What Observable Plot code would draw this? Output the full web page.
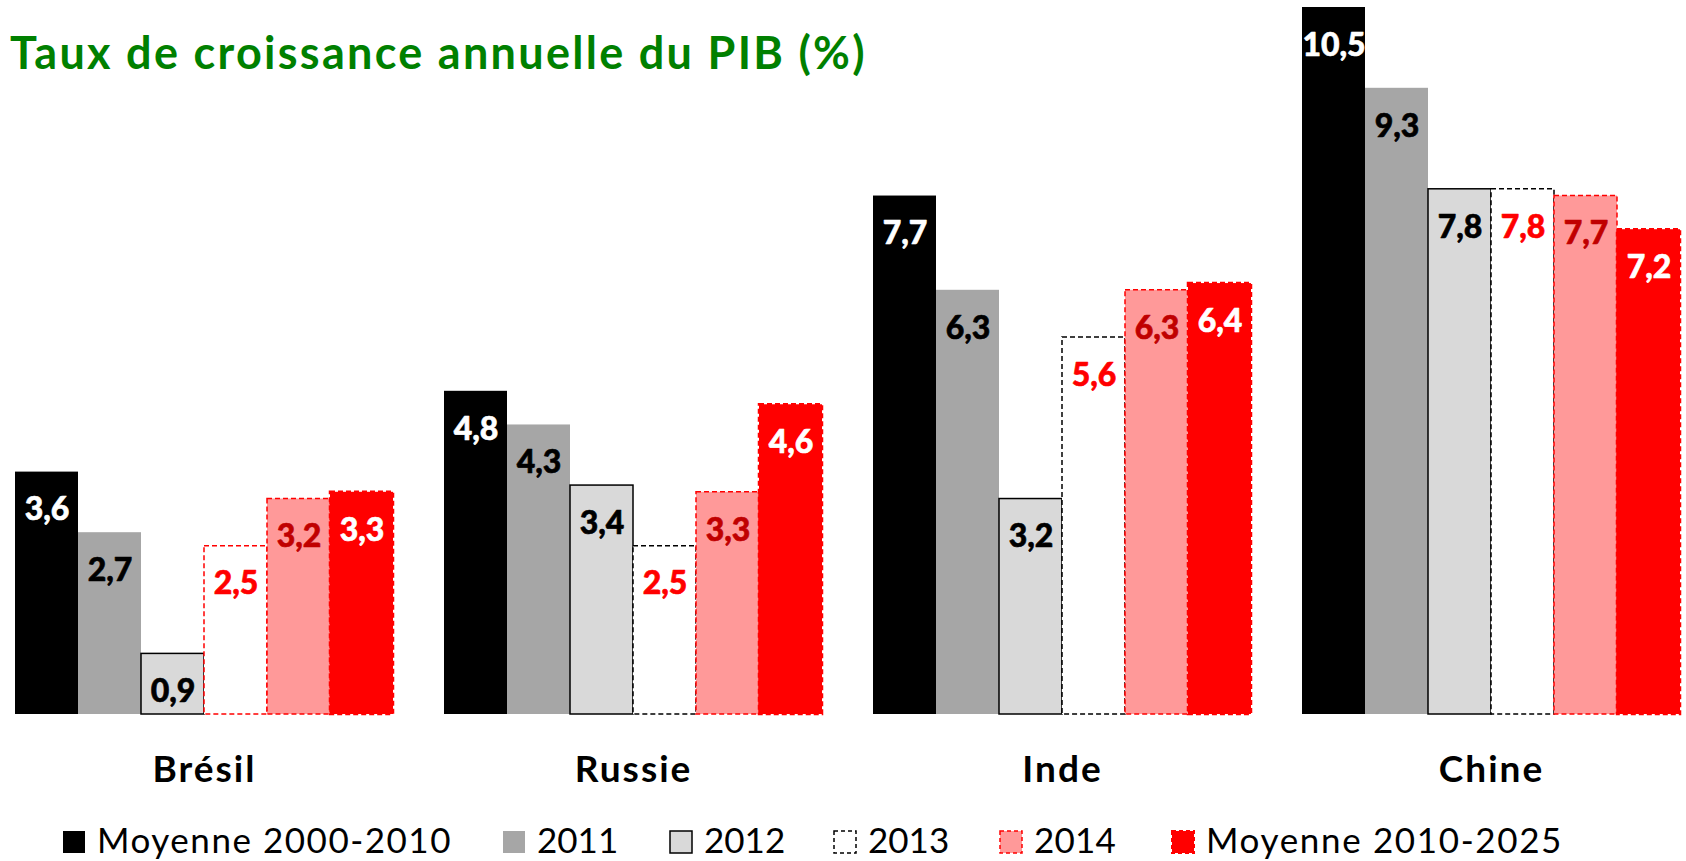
<!DOCTYPE html>
<html lang="fr">
<head>
<meta charset="utf-8">
<script src="https://cdn.jsdelivr.net/npm/d3@7"></script>
<script src="https://cdn.jsdelivr.net/npm/@observablehq/plot@0.6"></script>
<style>
  html, body { margin: 0; padding: 0; background: #fff; }
  body { width: 1686px; height: 861px; overflow: hidden; font-family: Lato, "Open Sans", sans-serif; }
  #wrap { position: relative; width: 1686px; height: 861px; }
  #title { position: absolute; left: 10px; top: 30px; font-size: 45px; line-height: 1; font-weight: bold; color: #008000; white-space: nowrap; }
  #chart { position: absolute; left: 0; top: 0; }
  #legend { position: absolute; left: 0; top: 800px; width: 1686px; height: 61px; }
  .item { position: absolute; top: 0; height: 61px; }
  .item svg { position: absolute; left: 0; top: 30px; }
  .item span { position: absolute; left: 35px; top: 22px; font-size: 35px; line-height: 1; white-space: nowrap; color: #000; }
</style>
</head>
<body>
<div id="wrap">
  <div id="chart"></div>
  <div id="title">Taux de croissance annuelle du PIB (%)</div>
  <div id="legend"></div>
</div>
<script>
// ---- data ----
const pays = ["Brésil", "Russie", "Inde", "Chine"];
const series = ["Moyenne 2000-2010", "2011", "2012", "2013", "2014", "Moyenne 2010-2025"];
const moy2000_2010 = [3.6, 4.8, 7.7, 10.5];
const v2011 = [2.7, 4.3, 6.3, 9.3];
const v2012 = [0.9, 3.4, 3.2, 7.8];
const v2013 = [2.5, 2.5, 5.6, 7.8];
const v2014 = [3.2, 3.3, 6.3, 7.7];
const moy2010_2025 = [3.3, 4.6, 6.4, 7.2];

const valeurs = [moy2000_2010, v2011, v2012, v2013, v2014, moy2010_2025];
const table = series.flatMap((s, i) => pays.map((p, j) => ({serie: s, pays: p, value: valeurs[i][j]})));

// ---- styles ----
const styles = {
  "Moyenne 2000-2010": {fill: "#000000", stroke: "none", width: 0, dash: null, label: "#ffffff"},
  "2011": {fill: "#a6a6a6", stroke: "none", width: 0, dash: null, label: "#000000"},
  "2012": {fill: "#d9d9d9", stroke: "#000000", width: 1.5, dash: null, label: "#000000"},
  "2013": {fill: "#ffffff", stroke: d => d.pays === "Brésil" ? "#ff0000" : "#000000", legendStroke: "#000000", width: 1.5, dash: "5,3", label: "#ff0000"},
  "2014": {fill: "#ff9999", stroke: "#ff0000", width: 1.5, dash: "5,3", label: "#c00000"},
  "Moyenne 2010-2025": {fill: "#ff0000", stroke: "#ff0000", width: 2.5, dash: "5,3", label: "#ffffff"}
};

const fmt = v => d3.format(".1f")(v).replace(".", ",");

const marks = [];
for (const s of series) {
  const st = styles[s];
  const rows = table.filter(d => d.serie === s);
  marks.push(Plot.barY(rows, {
    fx: "pays", x: "serie", y: "value",
    fill: st.fill,
    stroke: st.stroke,
    strokeWidth: st.width,
    strokeDasharray: st.dash || undefined
  }));
}
for (const s of series) {
  const st = styles[s];
  const rows = table.filter(d => d.serie === s);
  marks.push(Plot.text(rows, {
    fx: "pays", x: "serie", y: "value",
    text: d => fmt(d.value),
    dy: 38, lineAnchor: "middle",
    fill: st.label, fontSize: 32, fontWeight: "900",
    stroke: st.label, strokeWidth: 0.6
  }));
}
marks.push(Plot.axisFx({
  anchor: "bottom", tickSize: 0, tickPadding: 41, label: null,
  fontSize: 37, fontWeight: "bold", fill: "#000"
}));

const chart = Plot.plot({
  width: 1686,
  height: 800,
  marginLeft: 12,
  marginRight: 3,
  marginTop: 7,
  marginBottom: 86,
  style: {fontFamily: "Lato, 'Open Sans', sans-serif", background: "transparent", overflow: "visible"},
  fx: {domain: pays, paddingInner: 0.11, paddingOuter: 0, label: null},
  x: {domain: series, padding: 0, axis: null},
  y: {domain: [0, 10.5], axis: null},
  color: {type: "identity"},
  marks
});
document.getElementById("chart").appendChild(chart);
// slight letter spacing on country labels to match reference widths
d3.select(chart).selectAll("g[aria-label='fx-axis tick label'] text").style("letter-spacing", "2px");

// ---- legend ----
const legendX = [62, 502, 669, 833, 999, 1171];
const legendW = [355, 79, 81, 81, 82, 357];
const legend = document.getElementById("legend");
series.forEach((s, i) => {
  const st = styles[s];
  const item = document.createElement("div");
  item.className = "item";
  item.style.left = legendX[i] + "px";
  const stroke = st.legendStroke || (typeof st.stroke === "string" ? st.stroke : "none");
  const sw = Math.min(st.width, 2);
  item.innerHTML =
    `<svg width="24" height="24" viewBox="0 0 24 24"><rect x="1" y="1" width="22" height="22" fill="${st.fill}" stroke="${stroke}" stroke-width="${sw}" ${st.dash ? `stroke-dasharray="4,3"` : ""}/></svg><span>${s}</span>`;
  legend.appendChild(item);
  const span = item.querySelector("span");
  const w = span.getBoundingClientRect().width;
  const n = s.length;
  const ls = (legendW[i] - w) / n;
  if (ls > 0) span.style.letterSpacing = ls.toFixed(2) + "px";
});

// title width matched to the reference
const title = document.getElementById("title");
const tw = title.getBoundingClientRect().width;
const tls = (857 - tw) / title.textContent.length;
if (tls > 0) title.style.letterSpacing = tls.toFixed(2) + "px";
</script>
</body>
</html>
